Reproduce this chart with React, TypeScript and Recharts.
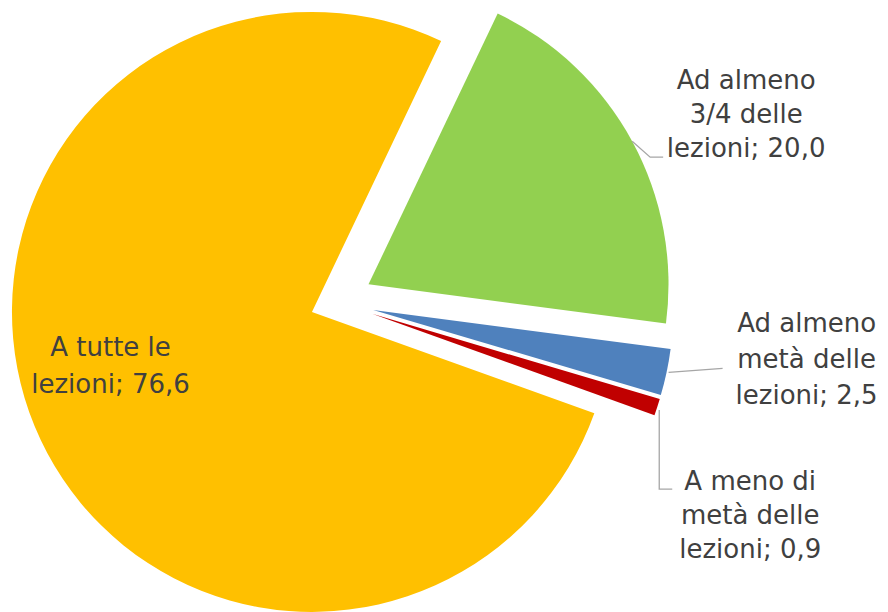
import { PieChart, Pie, Cell, Sector } from "recharts";

// slices in drawing order, clockwise from the top-right
const categories = [
  "Ad almeno 3/4 delle lezioni",
  "Ad almeno metà delle lezioni",
  "A meno di metà delle lezioni",
  "A tutte le lezioni",
];
const labelLines = [
  ["Ad almeno", "3/4 delle", "lezioni"],
  ["Ad almeno", "metà delle", "lezioni"],
  ["A meno di", "metà delle", "lezioni"],
  ["A tutte le", "lezioni"],
];
const values = [20.0, 2.5, 0.9, 76.6];

const colors = ["#92D050", "#4F81BD", "#C00000", "#FFC000"];
const explode = [37, 38, 38, 26];

// label placement relative to the outer mid point of each (exploded) slice
const labelDx = [114, 140, 93, 76];
const labelDy = [-52, -40, 83, -70];
const lineGap = [34, 36, 34, 37];
const leaders: number[][][] = [
  [[0, 0], [18, 16], [31, 16]],
  [[2, 0], [56, -4]],
  [[2, 3], [2, 82], [15, 82]],
  [],
];

const data = categories.map((name, i) => ({ name, value: values[i] }));

const RAD = Math.PI / 180;
const polar = (cx: number, cy: number, r: number, deg: number) => [
  cx + r * Math.cos(-deg * RAD),
  cy + r * Math.sin(-deg * RAD),
];
const fmt = (v: number) => v.toFixed(1).replace(".", ",");

function sliceIndex(p: any) {
  const n = p?.payload?.name ?? p?.name;
  return categories.indexOf(n);
}

function ExplodedSector(props: any) {
  const i = sliceIndex(props);
  const mid = (props.startAngle + props.endAngle) / 2;
  const [x, y] = polar(props.cx, props.cy, explode[i] ?? 0, mid);
  return <Sector {...props} cx={x} cy={y} stroke="none" />;
}

function SliceLabel(props: any) {
  const i = sliceIndex(props);
  if (i < 0) return null;
  const mid = props.midAngle;
  const [sx, sy] = polar(props.cx, props.cy, explode[i], mid);
  const [ox, oy] = polar(sx, sy, props.outerRadius, mid);
  const lines = labelLines[i].slice();
  lines[lines.length - 1] += "; " + fmt(values[i]);
  const tx = ox + labelDx[i];
  const ty = oy + labelDy[i];
  const pts = leaders[i].map(([dx, dy]) => `${ox + dx},${oy + dy}`).join(" ");
  return (
    <g>
      {pts && <polyline points={pts} fill="none" stroke="#A6A6A6" strokeWidth={1.3} />}
      <text textAnchor="middle" fill="#404040" fontSize={26} fontFamily="'DejaVu Sans', sans-serif">
        {lines.map((l, k) => (
          <tspan key={k} x={tx} y={ty + k * lineGap[i]}>
            {l}
          </tspan>
        ))}
      </text>
    </g>
  );
}

export default function App() {
  return (
    <div style={{ width: 888, height: 612, background: "#fff" }}>
      <style>{`body{margin:0}`}</style>
      <PieChart width={888} height={612} margin={{ top: 0, right: 0, bottom: 0, left: 0 }}>
        <Pie
          data={data}
          dataKey="value"
          nameKey="name"
          cx={336}
          cy={302}
          outerRadius={300}
          startAngle={64.5}
          endAngle={-295.5}
          stroke="none"
          shape={ExplodedSector}
          label={SliceLabel}
          labelLine={false}
          isAnimationActive={false}
        >
          {data.map((d, i) => (
            <Cell key={d.name} fill={colors[i]} />
          ))}
        </Pie>
      </PieChart>
    </div>
  );
}
